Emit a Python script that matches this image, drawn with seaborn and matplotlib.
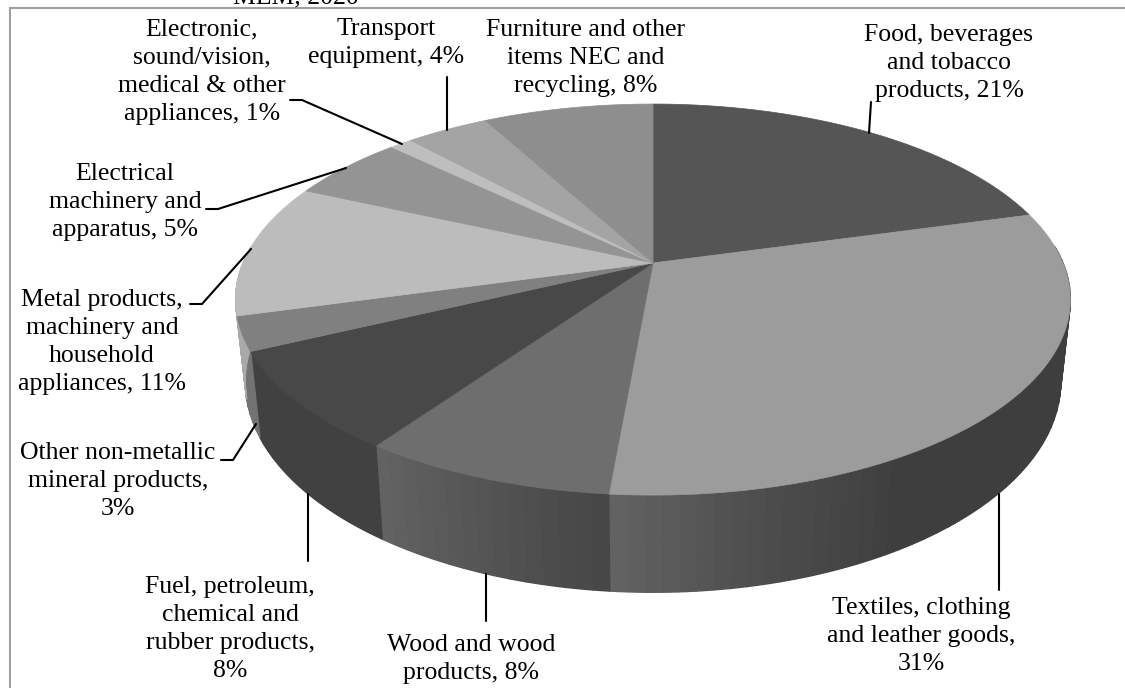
import matplotlib
matplotlib.use('Agg')
import matplotlib.pyplot as plt
import seaborn as sns
import numpy as np

sectors = ['Food', 'Textiles', 'Wood', 'Fuel', 'Other', 'Metal',
           'Electrical', 'Electronic', 'Transport', 'Furniture']
values = [20.7, 30.7, 8.3, 8.2, 2.8, 11.05, 5.45, 1.05, 3.85, 7.9]
greys = [85, 156, 110, 72, 128, 188, 148, 190, 164, 142]

labels = ['Food, beverages\nand tobacco\nproducts, 21%',
          'Textiles, clothing\nand leather goods,\n31%',
          'Wood and wood\nproducts, 8%',
          'Fuel, petroleum,\nchemical and\nrubber products,\n8%',
          'Other non-metallic\nmineral products,\n3%',
          'Metal products,\nmachinery and\nhousehold\nappliances, 11%',
          'Electrical\nmachinery and\napparatus, 5%',
          'Electronic,\nsound/vision,\nmedical & other\nappliances, 1%',
          'Transport\nequipment, 4%',
          'Furniture and other\nitems NEC and\nrecycling, 8%']

# layout in pixels
label_pos = [(949, 63), (921, 636), (471, 659), (230, 629), (118, 481),
             (102, 342), (125, 202), (202, 72), (386, 43), (586, 58)]
leaders = [[(871, 102), (869, 133)],
           [(999, 494), (999, 590)],
           [(486, 574), (486, 621)],
           [(308, 494), (308, 561)],
           [(221, 460), (233, 460), (256, 424)],
           [(190, 304), (202, 304), (251, 249)],
           [(206, 209), (218, 209), (346, 168)],
           [(290, 100), (302, 100), (402, 144)],
           [(447, 77), (447, 130)]]

# pie geometry, a tilted circle with some perspective
cx, cy = 653, 263
R, H, k = 410, 188.7, 0.187
depth, bottom_scale = 79, 0.977


def project(theta):
    s = np.cos(theta)
    w = 1 + k * s
    return cx + R * np.sin(theta) / w, cy - H * s / w


def wall_shade(deg):
    return np.interp(deg, [95, 150, 170, 187, 215, 265], [0.40, 0.40, 0.51, 0.65, 0.90, 0.90])


def grey(v):
    v = int(round(v))
    return '#%02x%02x%02x' % (v, v, v)


sns.set_theme(style='white')
plt.rcParams['font.family'] = ['Liberation Serif', 'DejaVu Serif']

fig = plt.figure(figsize=(11.25, 6.88), dpi=100)
ax = fig.add_axes([0, 0, 1, 1])
ax.set_xlim(0, 1125)
ax.set_ylim(688, 0)
ax.axis('off')

edges = np.cumsum([0] + values) / sum(values) * 360

# side wall first, in thin strips so it can be shaded
for i in range(len(values)):
    a0 = max(edges[i], 85)
    a1 = min(edges[i + 1], 275)
    if a1 <= a0:
        continue
    steps = np.append(np.arange(a0, a1, 2.0), a1)
    for d0, d1 in zip(steps[:-1], steps[1:]):
        th = np.radians(np.linspace(d0, d1, 4))
        x, y = project(th)
        w = 1 + k * np.cos(th)
        xb = cx + bottom_scale * (x - cx)
        yb = y + depth / w
        c = grey(greys[i] * wall_shade((d0 + d1) / 2))
        ax.fill(np.r_[x, xb[::-1]], np.r_[y, yb[::-1]], color=c, lw=1.0, zorder=1)

# top face
for i in range(len(values)):
    th = np.radians(np.linspace(edges[i], edges[i + 1], 80))
    x, y = project(th)
    ax.fill(np.r_[cx, x], np.r_[cy, y], color=grey(greys[i]), lw=0.5, zorder=2)

# leader lines
for pts in leaders:
    px = [p[0] for p in pts]
    py = [p[1] for p in pts]
    sns.lineplot(x=px, y=py, sort=False, estimator=None, color='black', lw=1.5, ax=ax, zorder=3)

for text, (tx, ty) in zip(labels, label_pos):
    ax.text(tx, ty, text, ha='center', va='center', fontsize=18.5, color='black',
            linespacing=1.37, zorder=4)

# title cut by the top of the picture
ax.text(296, 3, 'MEM, 2020', ha='center', va='baseline', fontsize=18.5, color='black', clip_on=False)

# chart frame, only top and left are visible
ax.plot([9.6, 9.6, 1125], [688, 7.7, 7.7], color='#a0a0a0', lw=1.5, solid_joinstyle='miter', zorder=0)

plt.savefig('out.png', dpi=100)
